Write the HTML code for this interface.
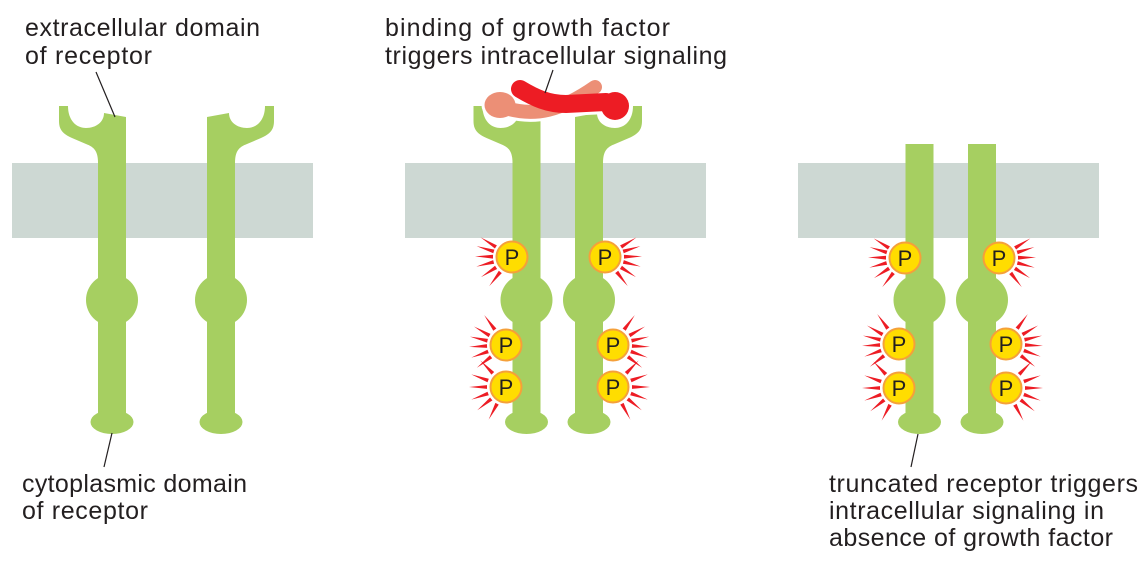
<!DOCTYPE html>
<html><head><meta charset="utf-8"><style>
html,body{margin:0;padding:0;background:#fff;}
svg{display:block;}
text{font-family:"Liberation Sans",sans-serif;fill:#231f20;}
</style></head><body>
<svg width="1145" height="585" viewBox="0 0 1145 585" xmlns="http://www.w3.org/2000/svg">
<defs>
<polygon id="ray" points="19,-1.9 19,1.9 37,0"/>
</defs>
<rect width="1145" height="585" fill="#fff"/>
<!-- membranes -->
<rect x="12" y="163" width="301" height="75" fill="#cdd8d3"/>
<rect x="405" y="163" width="301" height="75" fill="#cdd8d3"/>
<rect x="798" y="163" width="301" height="75" fill="#cdd8d3"/>

<g fill="#a6cf61">
<!-- panel 1, c=112 -->
<path d="M59,106 L68,106 C68,120 76,128 86,128 C96,128 104,122 104,113 L126,117 L126,180 L98,180 L98,163 C98,151 94,147 86,144 L72,138 C63,134 59,130 59,121 Z"/>
<rect x="98" y="170" width="28" height="252"/>
<circle cx="112" cy="300" r="26"/>
<ellipse cx="112" cy="422" rx="21.5" ry="12"/>
<!-- panel 1, c=221 -->
<path d="M274,106 L265,106 C265,120 257,128 247,128 C237,128 229,122 229,113 L207,117 L207,180 L235,180 L235,163 C235,151 239,147 247,144 L261,138 C270,134 274,130 274,121 Z"/>
<rect x="207" y="170" width="28" height="252"/>
<circle cx="221" cy="300" r="26"/>
<ellipse cx="221" cy="422" rx="21.5" ry="12"/>

<!-- panel 2, c=526.5 -->
<path d="M473.5,106 L482.5,106 C482.5,120 490.5,128 500.5,128 C510.5,128 518.5,122 518.5,113 L540.5,117 L540.5,180 L512.5,180 L512.5,163 C512.5,151 508.5,147 500.5,144 L486.5,138 C477.5,134 473.5,130 473.5,121 Z"/>
<rect x="512.5" y="170" width="28" height="252"/>
<circle cx="526.5" cy="300" r="26"/>
<ellipse cx="526.5" cy="422" rx="21.5" ry="12"/>
<!-- panel 2, c=589 -->
<path d="M642,106 L633,106 C633,120 625,128 615,128 C605,128 597,122 597,113 L575,117 L575,180 L603,180 L603,163 C603,151 607,147 615,144 L629,138 C638,134 642,130 642,121 Z"/>
<rect x="575" y="170" width="28" height="252"/>
<circle cx="589" cy="300" r="26"/>
<ellipse cx="589" cy="422" rx="21.5" ry="12"/>

<!-- panel 3 truncated -->
<rect x="905.5" y="144" width="28" height="278"/>
<circle cx="919.5" cy="300" r="26"/>
<ellipse cx="919.5" cy="422" rx="21.5" ry="12"/>
<rect x="968" y="144" width="28" height="278"/>
<circle cx="982" cy="300" r="26"/>
<ellipse cx="982" cy="422" rx="21.5" ry="12"/>
</g>

<!-- growth factor: white outlines -->
<g fill="none" stroke="#fff" stroke-linecap="round">
<path d="M502,107 C535,118 562,110 595,87" stroke-width="20"/>
<path d="M520,89 C535,98 548,104 566,104 L606,102" stroke-width="24"/>
</g>
<ellipse cx="500" cy="105" rx="18.5" ry="16" fill="#fff"/>
<circle cx="615" cy="106" r="17" fill="#fff"/>
<!-- pink -->
<path d="M502,107 C535,118 562,110 595,87" stroke="#ec8f76" stroke-width="14" fill="none" stroke-linecap="round"/>
<ellipse cx="500" cy="105" rx="15.5" ry="13" fill="#ec8f76"/>
<!-- red -->
<path d="M520,89 C535,98 548,104 566,104 L606,102" stroke="#ed1c24" stroke-width="18" fill="none" stroke-linecap="round"/>
<circle cx="615" cy="106" r="14" fill="#ed1c24"/>

<!-- rays -->
<g fill="#ed1c24">
<g transform="translate(512 257)">
<use href="#ray" transform="rotate(128)"/><use href="#ray" transform="rotate(147)"/><use href="#ray" transform="rotate(165)"/><use href="#ray" transform="rotate(181)"/><use href="#ray" transform="rotate(197)"/><use href="#ray" transform="rotate(212)"/>
</g>
<g transform="translate(905 258)">
<use href="#ray" transform="rotate(128)"/><use href="#ray" transform="rotate(147)"/><use href="#ray" transform="rotate(165)"/><use href="#ray" transform="rotate(181)"/><use href="#ray" transform="rotate(197)"/><use href="#ray" transform="rotate(212)"/>
</g>
<g transform="translate(605 257)">
<use href="#ray" transform="rotate(52)"/><use href="#ray" transform="rotate(33)"/><use href="#ray" transform="rotate(15)"/><use href="#ray" transform="rotate(-1)"/><use href="#ray" transform="rotate(-17)"/><use href="#ray" transform="rotate(-32)"/>
</g>
<g transform="translate(999 258)">
<use href="#ray" transform="rotate(52)"/><use href="#ray" transform="rotate(33)"/><use href="#ray" transform="rotate(15)"/><use href="#ray" transform="rotate(-1)"/><use href="#ray" transform="rotate(-17)"/><use href="#ray" transform="rotate(-32)"/>
</g>
<g transform="translate(506 345)">
<use href="#ray" transform="rotate(142)"/><use href="#ray" transform="rotate(160)"/><use href="#ray" transform="rotate(177)"/><use href="#ray" transform="rotate(193)"/><use href="#ray" transform="rotate(210)"/><use href="#ray" transform="rotate(234)"/>
</g>
<g transform="translate(899 344)">
<use href="#ray" transform="rotate(142)"/><use href="#ray" transform="rotate(160)"/><use href="#ray" transform="rotate(177)"/><use href="#ray" transform="rotate(193)"/><use href="#ray" transform="rotate(210)"/><use href="#ray" transform="rotate(234)"/>
</g>
<g transform="translate(506 387)">
<use href="#ray" transform="rotate(118)"/><use href="#ray" transform="rotate(141)"/><use href="#ray" transform="rotate(160)"/><use href="#ray" transform="rotate(180)"/><use href="#ray" transform="rotate(200)"/><use href="#ray" transform="rotate(226)"/>
</g>
<g transform="translate(899 388)">
<use href="#ray" transform="rotate(118)"/><use href="#ray" transform="rotate(141)"/><use href="#ray" transform="rotate(160)"/><use href="#ray" transform="rotate(180)"/><use href="#ray" transform="rotate(200)"/><use href="#ray" transform="rotate(226)"/>
</g>
<g transform="translate(613 345)">
<use href="#ray" transform="rotate(38)"/><use href="#ray" transform="rotate(20)"/><use href="#ray" transform="rotate(3)"/><use href="#ray" transform="rotate(-13)"/><use href="#ray" transform="rotate(-30)"/><use href="#ray" transform="rotate(-54)"/>
</g>
<g transform="translate(1006 344)">
<use href="#ray" transform="rotate(38)"/><use href="#ray" transform="rotate(20)"/><use href="#ray" transform="rotate(3)"/><use href="#ray" transform="rotate(-13)"/><use href="#ray" transform="rotate(-30)"/><use href="#ray" transform="rotate(-54)"/>
</g>
<g transform="translate(613 387)">
<use href="#ray" transform="rotate(62)"/><use href="#ray" transform="rotate(39)"/><use href="#ray" transform="rotate(20)"/><use href="#ray" transform="rotate(0)"/><use href="#ray" transform="rotate(-20)"/><use href="#ray" transform="rotate(-46)"/>
</g>
<g transform="translate(1006 388)">
<use href="#ray" transform="rotate(62)"/><use href="#ray" transform="rotate(39)"/><use href="#ray" transform="rotate(20)"/><use href="#ray" transform="rotate(0)"/><use href="#ray" transform="rotate(-20)"/><use href="#ray" transform="rotate(-46)"/>
</g>
</g>

<!-- P circles -->
<g fill="#ffdd00" stroke="#f5a03a" stroke-width="2">
<circle cx="512" cy="257" r="15.5"/><circle cx="506" cy="345" r="15.5"/><circle cx="506" cy="387" r="15.5"/>
<circle cx="605" cy="257" r="15.5"/><circle cx="613" cy="345" r="15.5"/><circle cx="613" cy="387" r="15.5"/>
<circle cx="905" cy="258" r="15.5"/><circle cx="899" cy="344" r="15.5"/><circle cx="899" cy="388" r="15.5"/>
<circle cx="999" cy="258" r="15.5"/><circle cx="1006" cy="344" r="15.5"/><circle cx="1006" cy="388" r="15.5"/>
</g>
<g font-size="22" text-anchor="middle">
<text x="512" y="265">P</text><text x="506" y="353">P</text><text x="506" y="395">P</text>
<text x="605" y="265">P</text><text x="613" y="353">P</text><text x="613" y="395">P</text>
<text x="905" y="266">P</text><text x="899" y="352">P</text><text x="899" y="396">P</text>
<text x="999" y="266">P</text><text x="1006" y="352">P</text><text x="1006" y="396">P</text>
</g>

<!-- leader lines -->
<g stroke="#231f20" stroke-width="1.2" fill="none">
<line x1="96" y1="72" x2="115" y2="117"/>
<line x1="112" y1="433" x2="104" y2="467"/>
<line x1="553" y1="70" x2="545" y2="93"/>
<line x1="918" y1="434" x2="911" y2="467"/>
</g>

<!-- labels -->
<g font-size="25">
<text x="25" y="36" textLength="235" lengthAdjust="spacing">extracellular domain</text>
<text x="25" y="64" textLength="127" lengthAdjust="spacing">of receptor</text>
<text x="385" y="36" textLength="285" lengthAdjust="spacing">binding of growth factor</text>
<text x="385" y="64" textLength="342" lengthAdjust="spacing">triggers intracellular signaling</text>
<text x="22" y="492" textLength="225" lengthAdjust="spacing">cytoplasmic domain</text>
<text x="22" y="519" textLength="126" lengthAdjust="spacing">of receptor</text>
<text x="829" y="492" textLength="309" lengthAdjust="spacing">truncated receptor triggers</text>
<text x="829" y="519" textLength="275" lengthAdjust="spacing">intracellular signaling in</text>
<text x="829" y="546" textLength="284" lengthAdjust="spacing">absence of growth factor</text>
</g>
</svg>
</body></html>
